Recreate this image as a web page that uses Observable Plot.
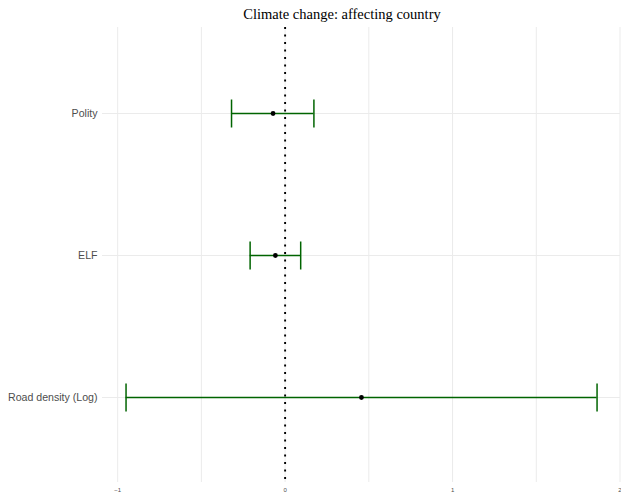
<!DOCTYPE html>
<html>
<head>
<meta charset="utf-8">
<script src="https://cdn.jsdelivr.net/npm/d3@7"></script>
<script src="https://cdn.jsdelivr.net/npm/@observablehq/plot@0.6"></script>
<style>
  html, body { margin: 0; padding: 0; background: #fff; }
  #title { position: relative; height: 26px; width: 621px; font-family: "Liberation Serif", "Times New Roman", serif; font-size: 14.5px; color: #000; }
  #title span { position: absolute; left: 342px; top: 5px; transform: translateX(-50%); white-space: nowrap; line-height: 18px; }
  svg { display: block; }
</style>
</head>
<body>
<div id="title"><span>Climate change: affecting country</span></div>
<div id="chart"></div>
<script>
const terms = ["Polity", "ELF", "Road density (Log)"];
const estimates = [-0.072, -0.058, 0.456];
const lower = [-0.32, -0.209, -0.95];
const upper = [0.172, 0.093, 1.863];
const xTicks = [-1, 0, 1, 2];
const xGrid = [-1, -0.5, 0, 0.5, 1, 1.5, 2];

const data = terms.map((t, i) => ({term: t, est: estimates[i], lo: lower[i], hi: upper[i]}));

const capHalf = 14;
const vline = {
  draw(context) {
    context.moveTo(0, -capHalf);
    context.lineTo(0, capHalf);
  }
};

const chart = Plot.plot({
  width: 621,
  height: 469,
  marginTop: 1,
  marginBottom: 13,
  marginLeft: 102,
  marginRight: 1,
  style: {background: "#fff", fontFamily: "'Liberation Sans', Arial, sans-serif"},
  x: {domain: [-1.0906, 2.003], ticks: xTicks, label: null},
  y: {type: "point", domain: terms, padding: 0.6, label: null},
  marks: [
    Plot.gridX(xGrid, {stroke: "#ebebeb", strokeOpacity: 1, strokeWidth: 1}),
    Plot.gridY(terms, {stroke: "#ebebeb", strokeOpacity: 1, strokeWidth: 1}),
    Plot.axisX(xTicks, {tickSize: 0, tickPadding: 5, fontSize: 6, fill: "#4d4d4d", tickFormat: d3.format("d"), label: null}),
    Plot.axisY(terms, {tickSize: 0, tickPadding: 5, fontSize: 10.6, fill: "#4d4d4d", label: null}),
    Plot.ruleX([0], {stroke: "#000", strokeWidth: 1.9, strokeDasharray: "1.9,5.6"}),
    Plot.ruleY(data, {y: "term", x1: "lo", x2: "hi", stroke: "#006400", strokeWidth: 1.5}),
    Plot.dot(data, {x: "lo", y: "term", symbol: vline, r: 5, fill: "none", stroke: "#006400", strokeWidth: 1.5}),
    Plot.dot(data, {x: "hi", y: "term", symbol: vline, r: 5, fill: "none", stroke: "#006400", strokeWidth: 1.5}),
    Plot.dot(data, {x: "est", y: "term", r: 2.4, fill: "#000", stroke: "none"})
  ]
});
document.getElementById("chart").appendChild(chart);
</script>
</body>
</html>
